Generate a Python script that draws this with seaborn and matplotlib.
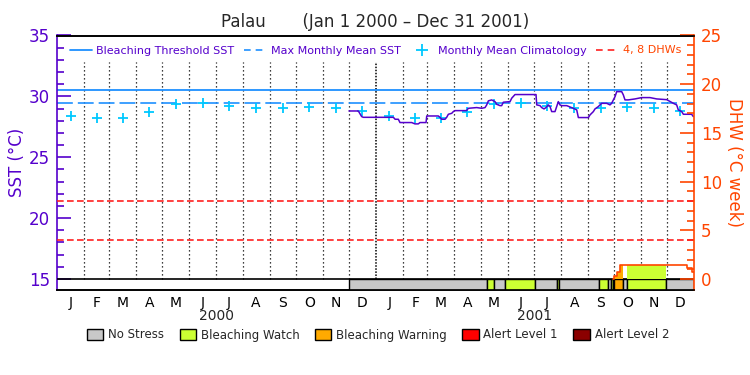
"""
Palau SST / DHW bleaching chart, Jan 2000 - Dec 2001.
"""

import numpy as np
import pandas as pd
import matplotlib
matplotlib.use("Agg")
import matplotlib.pyplot as plt
import matplotlib.transforms as mtransforms
from matplotlib.lines import Line2D
from matplotlib.patches import Patch
import seaborn as sns

# ---- data (x = days since Jan 1 2000) ----
month_letters = ['J', 'F', 'M', 'A', 'M', 'J', 'J', 'A', 'S', 'O', 'N', 'D']
years = ['2000', '2001']

clim_vals = [28.42, 28.20, 28.25, 28.70, 29.35, 29.43, 29.24, 29.03, 29.05, 29.10, 29.08, 28.80]
mmm_sst = 29.45
threshold_sst = 30.5
dhw_levels = [4, 8]

sst_day = [335.1, 345.8, 349.6, 351.5, 386, 388, 391.7, 393.6, 407, 410.8, 414.6, 416.6,
           423.5, 424.3, 437.6, 439.5, 441.5, 445.3, 447.2, 449.1, 453, 454.8, 456.7, 470,
           472, 481.6, 487.4, 491.2, 493.1, 495, 498.8, 502.6, 504.6, 508.4, 510.3, 512.2,
           519.9, 521.8, 525.6, 549.7, 550.5, 554.3, 556.2, 558.9, 561.2, 563.8, 565.8, 567.7,
           571.5, 573.4, 575.3, 577.2, 579.2, 584.9, 592.5, 596.4, 598.3, 609.8, 611.7, 615.5,
           617.4, 621.2, 625, 630.8, 634.6, 636.5, 640.4, 642.3, 648, 649.9, 651.8, 655.6,
           663.3, 671, 680.5, 688.2, 699.7, 707.3, 711.1, 713, 716.9, 718.8, 728.3, 730.2]
sst_val = [28.80, 28.80, 28.34, 28.28, 28.28, 28.12, 28.12, 27.85, 27.85, 27.74, 27.74, 27.85,
           27.85, 28.39, 28.39, 28.28, 28.12, 28.12, 28.28, 28.53, 28.61, 28.75, 28.83, 28.83,
           29.02, 29.08, 29.02, 29.08, 29.30, 29.63, 29.71, 29.57, 29.35, 29.24, 29.24, 29.52,
           29.57, 29.85, 30.15, 30.15, 29.30, 29.24, 29.08, 28.97, 29.08, 29.30, 29.16, 28.75,
           28.75, 29.16, 29.57, 29.30, 29.24, 29.24, 29.02, 28.89, 28.26, 28.26, 28.48, 28.75,
           28.97, 29.16, 29.43, 29.43, 29.30, 29.43, 29.98, 30.39, 30.39, 30.12, 29.71, 29.71,
           29.79, 29.90, 29.90, 29.79, 29.73, 29.43, 29.30, 28.89, 28.75, 28.53, 28.53, 28.34]

# degree heating weeks (step values, held until next day)
dhw_day = [638.4, 639.6, 643, 646, 722.6, 728.3, 731]
dhw_val = [0.0, 0.34, 0.69, 1.44, 1.10, 0.75, 0.75]

# stress level segments: 0 no stress, 1 watch, 2 warning, 3 alert 1, 4 alert 2
stress_start = [335, 493, 501, 514, 548.5, 573.5, 576.5, 622.5, 632.7, 635.4, 637.7, 639.2, 650, 654, 699]
stress_end = [493, 501, 514, 548.5, 573.5, 576.5, 622.5, 632.7, 635.4, 637.7, 639.2, 650, 654, 699, 731]
stress_level = [0, 1, 0, 1, 0, 1, 0, 1, 0, 1, 0, 2, 0, 1, 0]
stress_names = ['No Stress', 'Bleaching Watch', 'Bleaching Warning', 'Alert Level 1', 'Alert Level 2']
stress_colors = ['#C8C8C8', '#CCFF33', '#FFAA00', '#FF0000', '#8B0000']

# ---- style ----
sns.set_style("white")
plt.rcParams['font.family'] = ['DejaVu Sans']

purple = '#5500CC'
orange_red = '#FF4500'
blue = '#1E90FF'
cyan = '#00C8FF'
red = '#FF2020'

# month geometry from the calendar
month_starts = pd.date_range('2000-01-01', '2002-01-01', freq='MS')
start_days = np.array((month_starts - month_starts[0]).days, dtype=float)
mid_days = (start_days[:-1] + start_days[1:]) / 2
total_days = start_days[-1]

sst_bottom = 14.096
dhw_bottom = (sst_bottom - 15) / 0.8

fig = plt.figure(figsize=(7.5, 3.75), dpi=100)
ax = fig.add_axes([57 / 750, 1 - 290 / 375, 637 / 750, 254.5 / 375])
ax2 = ax.twinx()

# month separators
for d in start_days[1:-1]:
    if d == 366:
        ax.vlines(d, 15, 32.8, colors='k', linestyles=(0, (1, 1)), lw=1.1, zorder=1)
    else:
        ax.vlines(d, 15, 32.8, colors='k', linestyles=(0, (1, 2.2)), lw=0.9, zorder=1)

# reference lines
ax.axhline(threshold_sst, color=blue, lw=1.3, zorder=2)
ax.axhline(mmm_sst, color=blue, lw=1.2, ls=(0, (9.5, 3)), zorder=2)
for lv in dhw_levels:
    ax2.axhline(lv, color=red, lw=1.2, ls=(0, (4, 2)), zorder=2)

# climatology crosses
sns.scatterplot(x=mid_days, y=clim_vals * 2, marker='+', s=55, color=cyan,
                linewidth=1.3, ax=ax, zorder=3, legend=False)

# SST line
sns.lineplot(x=sst_day, y=sst_val, sort=False, estimator=None, color=purple,
             lw=1.1, ax=ax, zorder=4)

# stress bar
for s, e, lv in zip(stress_start, stress_end, stress_level):
    ax.bar(s, 0.904, width=e - s, bottom=sst_bottom, align='edge',
           color=stress_colors[lv], edgecolor='k', lw=1, zorder=5)
ax.axhline(15, color='k', lw=1.2, zorder=6)


def dhw_at(d):
    i = np.searchsorted(dhw_day, d, side='right') - 1
    return dhw_val[max(i, 0)]


# DHW fill coloured by stress level
for s, e, lv in zip(stress_start, stress_end, stress_level):
    if lv == 0:
        continue
    xs = [s] + [d for d in dhw_day if s < d < e] + [e]
    ys = [dhw_at(x) for x in xs]
    ax2.fill_between(xs, 0, ys, step='post', color=stress_colors[lv], lw=0, zorder=3)

ax2.plot(dhw_day, dhw_val, drawstyle='steps-post', color=orange_red, lw=1.2, zorder=4)

# axes limits / ticks
ax.set_xlim(0, total_days)
ax.set_ylim(sst_bottom, 35)
ax2.set_ylim(dhw_bottom, 25)

ax.set_yticks([15, 20, 25, 30, 35])
ax.set_yticks(np.arange(15, 36, 1), minor=True)
ax2.set_yticks([0, 5, 10, 15, 20, 25])
ax2.set_yticks(np.arange(0, 26, 1), minor=True)

ax.tick_params(axis='y', which='major', direction='in', length=10, width=1.2,
               color=purple, labelcolor=purple, labelsize=12, pad=5)
ax.tick_params(axis='y', which='minor', direction='in', length=5, width=1.2, color=purple)
ax2.tick_params(axis='y', which='major', direction='in', length=10, width=1.2,
                color=orange_red, labelcolor=orange_red, labelsize=12, pad=5)
ax2.tick_params(axis='y', which='minor', direction='in', length=5, width=1.2, color=orange_red)

ax.set_xticks(mid_days)
ax.set_xticklabels(month_letters * 2)
ax.tick_params(axis='x', length=0, pad=4, labelsize=10, labelcolor='k')

ax.set_ylabel('SST (°C)', color=purple, fontsize=12, labelpad=2)
ax2.set_ylabel('DHW (°C week)', color=orange_red, fontsize=12, rotation=270,
               va='bottom', labelpad=2)

for a in (ax, ax2):
    a.spines['top'].set_color('k')
    a.spines['bottom'].set_color('k')
    a.spines['left'].set_color(purple)
    a.spines['right'].set_color(orange_red)
    for sp in a.spines.values():
        sp.set_linewidth(1.2)
ax2.spines['left'].set_visible(False)
ax.spines['right'].set_visible(False)

# year labels
trans = mtransforms.blended_transform_factory(ax.transData, fig.transFigure)
for i, yr in enumerate(years):
    mid = (start_days[12 * i] + start_days[12 * i + 12]) / 2
    ax.text(mid, 1 - 316 / 375, yr, transform=trans, ha='center', va='center', fontsize=10)

# top legend
handles = [
    Line2D([], [], color=blue, lw=1.3),
    Line2D([], [], color=blue, lw=1.2, ls=(0, (4, 3))),
    Line2D([], [], color=cyan, marker='+', ls='none', markersize=8, mew=1.3),
    Line2D([], [], color=red, lw=1.2, ls=(0, (4, 3))),
]
labels = ['Bleaching Threshold SST', 'Max Monthly Mean SST', 'Monthly Mean Climatology', '4, 8 DHWs']
leg = ax.legend(handles, labels, ncol=4, loc='upper center', bbox_to_anchor=(0.5, 1.0),
                frameon=False, fontsize=8, handlelength=2.0, handletextpad=0.4,
                columnspacing=0.9, labelcolor=[purple, purple, purple, orange_red])

# title
fig.text(0.5, 1 - 22 / 375, 'Palau       (Jan 1 2000 – Dec 31 2001)', ha='center',
         va='center', fontsize=12)

# stress legend
patches = [Patch(facecolor=c, edgecolor='k', lw=1) for c in stress_colors]
fig.legend(patches, stress_names, ncol=5, loc='center', bbox_to_anchor=(0.504, 1 - 335 / 375),
           frameon=False, fontsize=8.5, handlelength=1.4, handleheight=1.1,
           handletextpad=0.4, columnspacing=1.3)

plt.savefig('out.png', dpi=100)
plt.close()
